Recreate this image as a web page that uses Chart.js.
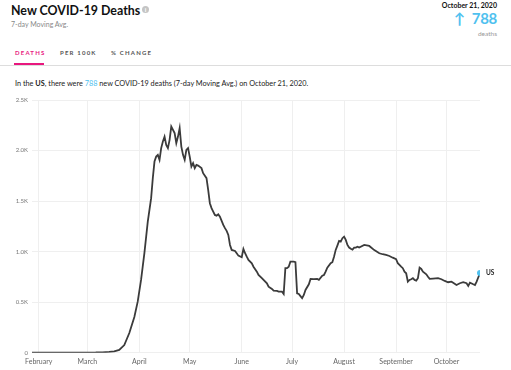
<!DOCTYPE html>
<html>
<head>
<meta charset="utf-8">
<script src="https://cdn.jsdelivr.net/npm/chart.js@4.4.0/dist/chart.umd.min.js"></script>
<style>
  body { margin: 0; background: #fff; font-family: Lato, "Open Sans", sans-serif; }
  #wrap { position: relative; width: 511px; height: 370px; overflow: hidden; }
  .abs { position: absolute; white-space: nowrap; }
  #title { left: 11px; top: 3px; font-size: 12.4px; font-weight: 700; color: #111; }
  #info { left: 142px; top: 6px; width: 7px; height: 7px; border-radius: 50%; background: #c4c4c4; color: #fff; font-size: 6px; line-height: 7px; text-align: center; font-weight: 700; }
  #sub { left: 11px; top: 20px; font-size: 7px; color: #888; }
  .tab { top: 49px; font-size: 6px; font-weight: 700; letter-spacing: 1.2px; color: #555; }
  #divider { left: 0; top: 65px; width: 511px; height: 1px; background: #ddd; }
  #pink { left: 14px; top: 63px; width: 30px; height: 2px; background: #e8177e; }
  #sentence { left: 15px; top: 79px; font-size: 7.3px; color: #222; }
  #sentence b { font-weight: 700; }
  .blue { color: #4fc1ef; }
  #date { right: 14px; top: 1px; font-size: 7px; font-weight: 700; color: #111; }
  #arrow { right: 46px; top: 9px; font-size: 15px; font-weight: 700; color: #4fc1ef; }
  #big { right: 14px; top: 9px; font-size: 15px; font-weight: 700; letter-spacing: -0.3px; color: #4fc1ef; }
  #deaths { right: 14px; top: 30px; font-size: 6.5px; color: #999; }
  #chartBox { position: absolute; left: 0; top: 90px; width: 511px; height: 280px; }
</style>
</head>
<body>
<div id="wrap">
  <div class="abs" id="title">New COVID-19 Deaths</div>
  <div class="abs" id="info">i</div>
  <div class="abs" id="sub">7-day Moving Avg.</div>
  <div class="abs tab" style="left:15px;color:#e8177e">DEATHS</div>
  <div class="abs tab" style="left:60px">PER 100K</div>
  <div class="abs tab" style="left:111px">% CHANGE</div>
  <div class="abs" id="divider"></div>
  <div class="abs" id="pink"></div>
  <div class="abs" id="sentence">In the <b>US</b>, there were <span class="blue">788</span> new COVID-19 deaths (7-day Moving Avg.) on October 21, 2020.</div>
  <div class="abs" id="date">October 21, 2020</div>
  <div class="abs" id="arrow">&#8593;</div>
  <div class="abs" id="big">788</div>
  <div class="abs" id="deaths">deaths</div>
  <div id="chartBox"><canvas id="chart"></canvas></div>
</div>
<script>
// day 0 = Jan 28, 2020
const days = [0,10,20,30,38,42,46,49,52,55,58,61,63,65,67,69,71,72,73,74,75,76,77,78,79,80,81,82,83,85,86,87,88,89,90,91,92,93,94,95,96,97,98,99,101,102,104,105,106,107,108,109,110,111,112,114,115,116,117,118,119,121,122,123,125,126,127,128,129,131,132,134,135,137,138,140,141,143,144,146,147,149,150,151,152,153,154,156,157,158,159,160,161,162,163,165,166,168,170,171,173,174,175,176,178,179,180,181,182,183,184,185,186,187,188,189,190,191,192,193,194,195,198,201,204,207,209,211,213,215,217,218,219,220,221,222,223,224,225,226,227,228,229,230,231,232,233,235,236,237,239,242,244,246,248,250,251,253,255,257,259,260,261,263,264,265,266,267];
const deaths = [0,0,0,1,2,4,8,14,27,76,195,353,505,720,987,1297,1529,1727,1891,1940,1957,1908,2024,2089,2138,2056,2024,2106,2237,2172,2073,2138,2222,2039,1957,1908,2007,2024,1940,1841,1875,1826,1858,1851,1826,1776,1727,1611,1479,1430,1396,1363,1356,1370,1346,1264,1232,1205,1165,1066,1017,1007,984,960,944,1027,984,950,918,885,851,802,769,737,720,687,653,631,614,611,604,604,581,836,836,850,901,901,895,588,581,560,539,571,621,677,730,727,730,720,762,769,802,842,885,895,950,1017,1060,1106,1099,1133,1148,1116,1066,1040,1028,1020,1040,1040,1049,1040,1066,1056,1015,984,974,967,957,940,925,885,868,851,836,802,786,703,720,727,737,720,713,737,842,829,802,776,752,730,733,737,727,710,697,703,693,670,687,697,687,660,693,677,670,703,746,788];

const monthDays = [4,33,64,94,125,155,186,217,247];
const monthLabels = ['February','March','April','May','June','July','August','September','October'];
const yTicks = [0,500,1000,1500,2000,2500];
const seriesName = 'US';

const points = days.map((d, i) => ({ x: d, y: deaths[i] }));
const last = points.length - 1;

const endLabel = {
  id: 'endLabel',
  afterDatasetsDraw(chart) {
    const el = chart.getDatasetMeta(0).data[last];
    const ctx = chart.ctx;
    ctx.save();
    ctx.font = 'bold 6.5px Lato, sans-serif';
    ctx.fillStyle = '#222';
    ctx.textBaseline = 'middle';
    ctx.fillText(seriesName, el.x + 6, el.y);
    ctx.restore();
  }
};

new Chart(document.getElementById('chart'), {
  type: 'line',
  data: {
    datasets: [{
      data: points,
      borderColor: '#3b3b3b',
      borderWidth: 1.8,
      tension: 0,
      pointRadius: ctx => ctx.dataIndex === last ? 3 : 0,
      pointBackgroundColor: '#4fc1ef',
      pointBorderWidth: 0
    }]
  },
  options: {
    responsive: true,
    maintainAspectRatio: false,
    animation: false,
    layout: { padding: { top: 10, right: 31, left: 0, bottom: 0 } },
    plugins: { legend: { display: false }, tooltip: { enabled: false } },
    scales: {
      x: {
        type: 'linear',
        min: 0,
        max: 267,
        afterBuildTicks: s => { s.ticks = monthDays.map(v => ({ value: v })); },
        afterFit: s => { s.height = 17.3; },
        grid: { color: '#efefef', drawTicks: false },
        border: { display: false },
        ticks: {
          padding: 5,
          color: '#666',
          font: { family: 'Lato, sans-serif', size: 7 },
          maxRotation: 0,
          autoSkip: false,
          callback: v => monthLabels[monthDays.indexOf(v)]
        }
      },
      y: {
        min: 0,
        max: 2500,
        afterBuildTicks: s => { s.ticks = yTicks.map(v => ({ value: v })); },
        afterFit: s => { s.width = 32; },
        grid: { color: '#efefef', drawTicks: false },
        border: { display: false },
        ticks: {
          padding: 4,
          color: '#777',
          font: { family: 'Lato, sans-serif', size: 6 },
          callback: v => v === 0 ? '0' : (v / 1000).toFixed(1) + 'K'
        }
      }
    }
  },
  plugins: [endLabel]
});
</script>
</body>
</html>
